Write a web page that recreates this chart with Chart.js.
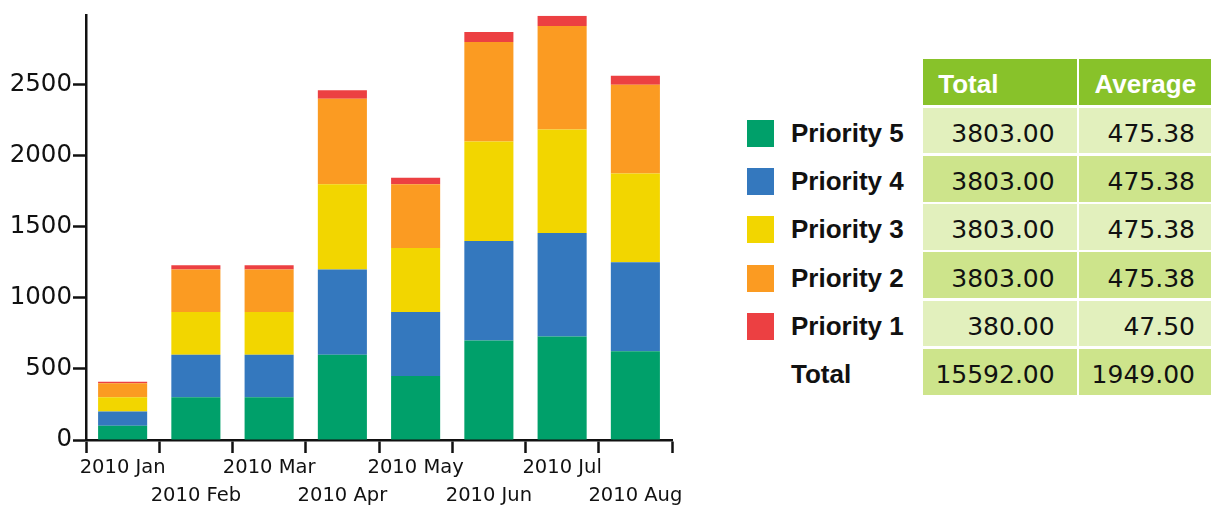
<!DOCTYPE html>
<html lang="en">

<head>
    <meta charset="UTF-8">
    <title>Priority chart</title>
    <script src="https://cdn.jsdelivr.net/npm/chart.js"></script>
    <style>
        body {
            margin: 0;
            width: 1211px;
            height: 505px;
            overflow: hidden;
            background: #ffffff;
            color: #111111;
        }

        .chart-box {
            position: absolute;
            left: 0;
            top: 0;
            width: 700px;
            height: 505px;
        }

        .summary {
            position: absolute;
            left: 745px;
            top: 59.3px;
            display: grid;
            grid-template-columns: 175.4px 154px 138px;
            grid-auto-rows: 45.7px;
            column-gap: 2.3px;
            row-gap: 2.6px;
        }

        .summary div {
            display: flex;
            align-items: center;
            box-sizing: border-box;
            padding-top: 6px;
            white-space: nowrap;
        }

        .summary .head {
            background: #88c22a;
            color: #ffffff;
            font: bold 26px 'Liberation Sans', sans-serif;
            padding-left: 15.5px;
            padding-top: 5.5px;
        }

        .summary .label {
            font: bold 26px 'Liberation Sans', sans-serif;
            padding-left: 2px;
        }

        .summary .swatch {
            display: inline-block;
            width: 27px;
            height: 27px;
            margin-right: 17px;
            padding: 0;
        }

        .summary .num {
            justify-content: flex-end;
            padding-right: 22px;
            font: 25px 'DejaVu Sans', sans-serif;
        }

        .summary .light {
            background: #e2f0bd;
        }

        .summary .dark {
            background: #cde48b;
        }
    </style>
</head>

<body>

    <div class="chart-box">
        <canvas id="barChart"></canvas>
    </div>
    <div class="summary" id="summary"></div>

    <script>
        const months = ['2010 Jan', '2010 Feb', '2010 Mar', '2010 Apr', '2010 May', '2010 Jun', '2010 Jul', '2010 Aug'];
        const priority5 = [100, 300, 300, 600, 450, 700, 728, 625];
        const priority4 = [100, 300, 300, 600, 450, 700, 728, 625];
        const priority3 = [100, 300, 300, 600, 450, 700, 728, 625];
        const priority2 = [100, 300, 300, 600, 450, 700, 728, 625];
        const priority1 = [10, 30, 30, 60, 45, 70, 73, 62];
        const yTicks = [0, 500, 1000, 1500, 2000, 2500];

        const seriesNames = ['Priority 5', 'Priority 4', 'Priority 3', 'Priority 2', 'Priority 1'];
        const seriesColors = ['#00a06a', '#3478be', '#f2d600', '#fb9b22', '#ec4042'];
        const seriesData = [priority5, priority4, priority3, priority2, priority1];

        // bar chart
        const ctx = document.getElementById('barChart').getContext('2d');
        new Chart(ctx, {
            type: 'bar',
            data: {
                labels: months,
                datasets: seriesNames.map((name, i) => ({
                    label: name,
                    data: seriesData[i],
                    backgroundColor: seriesColors[i],
                    borderWidth: 0,
                    barPercentage: 0.67,
                    categoryPercentage: 1
                }))
            },
            options: {
                responsive: true,
                maintainAspectRatio: false,
                animation: false,
                layout: {
                    padding: { top: 14, right: 28, left: 0, bottom: 0 }
                },
                plugins: {
                    legend: { display: false },
                    tooltip: { enabled: false }
                },
                scales: {
                    x: {
                        stacked: true,
                        grid: {
                            offset: true,
                            drawOnChartArea: false,
                            drawTicks: true,
                            tickLength: 13,
                            tickWidth: 2.5,
                            tickColor: '#111'
                        },
                        border: { display: true, color: '#111', width: 2.5 },
                        ticks: {
                            autoSkip: false,
                            maxRotation: 0,
                            minRotation: 0,
                            padding: 1.5,
                            color: '#111',
                            font: { family: 'DejaVu Sans', size: 19.5, lineHeight: 1.4 },
                            callback: function (value, index) {
                                const text = months[index];
                                return index % 2 ? ['', text] : text;
                            }
                        },
                        afterFit: function (scale) {
                            scale.height = 65;
                        }
                    },
                    y: {
                        stacked: true,
                        min: 0,
                        max: 2985,
                        grid: {
                            drawOnChartArea: false,
                            drawTicks: true,
                            tickLength: 13,
                            tickWidth: 2.5,
                            tickColor: '#111'
                        },
                        border: { display: true, color: '#111', width: 2.5 },
                        ticks: {
                            padding: 1,
                            color: '#111',
                            font: { family: 'DejaVu Sans', size: 24.5 },
                            callback: function (value) {
                                return String(value);
                            }
                        },
                        afterBuildTicks: function (scale) {
                            scale.ticks = yTicks.map(v => ({ value: v }));
                        },
                        afterFit: function (scale) {
                            scale.width = 86;
                        }
                    }
                }
            }
        });

        // summary table with legend
        function sum(arr) {
            return arr.reduce((a, b) => a + b, 0);
        }

        const summary = document.getElementById('summary');
        let html = '<div></div><div class="head">Total</div><div class="head">Average</div>';
        let grand = 0;
        seriesNames.forEach((name, i) => {
            const total = sum(seriesData[i]);
            grand += total;
            const shade = i % 2 ? 'dark' : 'light';
            html += '<div class="label"><span class="swatch" style="background:' + seriesColors[i] + '"></span>' + name + '</div>';
            html += '<div class="num ' + shade + '">' + total.toFixed(2) + '</div>';
            html += '<div class="num ' + shade + '">' + (total / months.length).toFixed(2) + '</div>';
        });
        html += '<div class="label"><span class="swatch"></span>Total</div>';
        html += '<div class="num dark">' + grand.toFixed(2) + '</div>';
        html += '<div class="num dark">' + (grand / months.length).toFixed(2) + '</div>';
        summary.innerHTML = html;
    </script>

</body>

</html>
